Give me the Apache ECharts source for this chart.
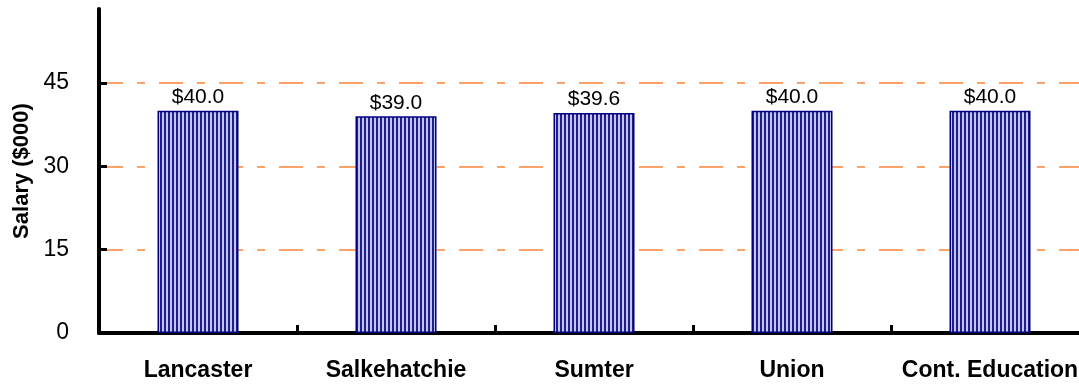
<!DOCTYPE html>
<html>
<head>
<meta charset="UTF-8">
<title>Salary by campus</title>
<script src="https://cdn.jsdelivr.net/npm/echarts@6/dist/echarts.min.js"></script>
<style>
  html, body { margin: 0; padding: 0; background: #fff; overflow: hidden; }
  /* plot area runs past the right edge of the window, as in the source */
  #chart { width: 1089px; height: 386px; }
</style>
</head>
<body>
<div id="chart"></div>
<script>
var campuses = ['Lancaster', 'Salkehatchie', 'Sumter', 'Union', 'Cont. Education'];
var salaries = [40.0, 39.0, 39.6, 40.0, 40.0];
var yTicks = [0, 15, 30, 45];

// vertical stripe fill for the bars
var stripe = document.createElement('canvas');
stripe.width = 4;
stripe.height = 4;
var ctx = stripe.getContext('2d');
ctx.fillStyle = '#c4c4e4';
ctx.fillRect(0, 0, 4, 4);
ctx.fillStyle = '#1e1e90';
ctx.fillRect(0, 0, 2, 4);

var myChart = echarts.init(document.getElementById('chart'));
var font = 'Liberation Sans, Arial, sans-serif';

var option = {
  animation: false,
  grid: { left: 99, right: 0, top: 9, bottom: 53, containLabel: false },
  xAxis: {
    type: 'category',
    data: campuses,
    boundaryGap: true,
    axisLine: { lineStyle: { color: '#000', width: 4 } },
    axisTick: { show: true, inside: true, length: 8, lineStyle: { color: '#000', width: 3 } },
    axisLabel: { margin: 26, color: '#000', fontFamily: font, fontWeight: 'bold', fontSize: 23, interval: 0 },
    splitLine: { show: false }
  },
  yAxis: {
    type: 'value',
    min: 0,
    max: 58.3,
    interval: 15,
    name: 'Salary ($000)',
    nameLocation: 'middle',
    nameGap: 66,
    nameTextStyle: { color: '#000', fontFamily: font, fontWeight: 'bold', fontSize: 22 },
    axisLine: { show: true, lineStyle: { color: '#000', width: 4 } },
    axisTick: { show: true, inside: true, length: 8, customValues: yTicks, lineStyle: { color: '#000', width: 3 } },
    axisLabel: { margin: 30, color: '#000', fontFamily: font, fontSize: 23, customValues: yTicks },
    splitLine: {
      show: true,
      showMinLine: false,
      lineStyle: { color: '#ff8438', width: 1.5, type: [24, 14, 8, 14] }
    }
  },
  series: [{
    type: 'bar',
    data: salaries,
    barWidth: 81,
    itemStyle: {
      color: { image: stripe, repeat: 'repeat' },
      borderColor: '#000080',
      borderWidth: 1.5
    },
    label: {
      show: true,
      position: 'top',
      distance: 3,
      color: '#000',
      fontFamily: font,
      fontSize: 21,
      formatter: function (p) { return '$' + p.value.toFixed(1); }
    }
  }]
};

myChart.setOption(option);
</script>
</body>
</html>
